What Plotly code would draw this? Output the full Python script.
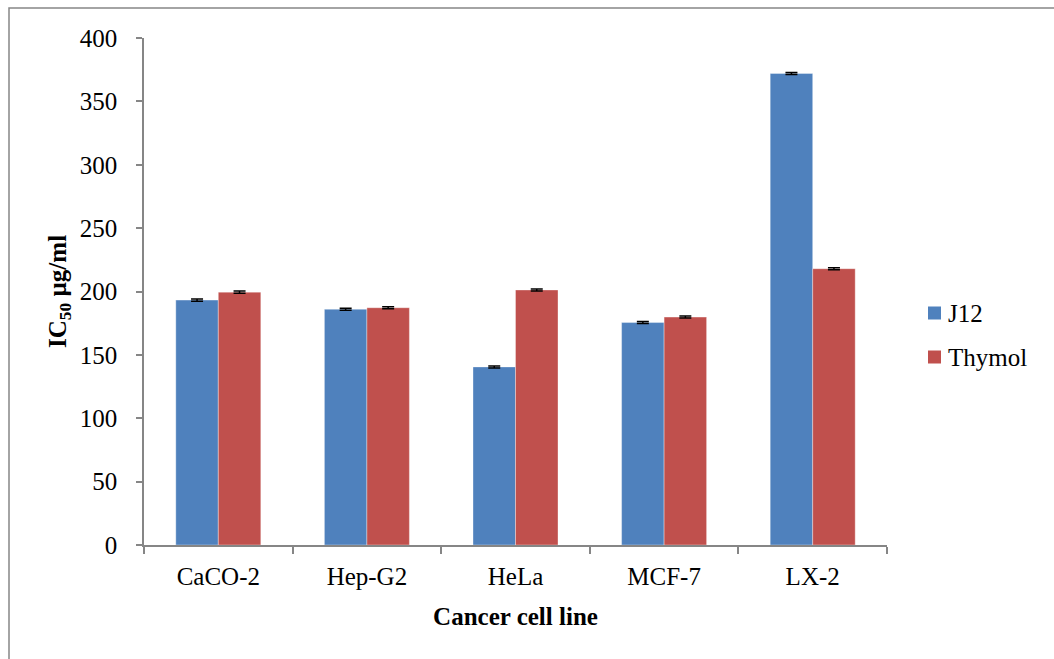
import plotly.graph_objects as go

# IC50 values (µg/ml) per cancer cell line
cell_lines = ["CaCO-2", "Hep-G2", "HeLa", "MCF-7", "LX-2"]
j12_values = [193.2, 186.0, 140.5, 175.5, 372.0]
thymol_values = [199.5, 187.2, 201.2, 179.8, 218.0]
j12_errors = [0.8, 0.8, 0.8, 0.8, 0.8]
thymol_errors = [0.8, 0.8, 0.8, 0.8, 0.8]
y_ticks = [0, 50, 100, 150, 200, 250, 300, 350, 400]
series_names = ["J12", "Thymol"]

FONT = "Liberation Serif"
AXIS_GREY = "#868686"
BLUE = "#4F81BD"
RED = "#C0504D"
series_colors = [BLUE, RED]

# plot-area geometry in pixels (used for the key placed right of the axes)
L, R, T, B = 144, 167, 38, 114
W, H = 1054, 659
PW, PH = W - L - R, H - T - B


def px_x(x):
    return (x - L) / PW


def px_y(y):
    return (H - B - y) / PH


fig = go.Figure()
fig.add_trace(go.Bar(
    name=series_names[0], x=cell_lines, y=j12_values,
    marker=dict(color=BLUE, line=dict(color="rgba(255,255,255,0.35)", width=1)),
    error_y=dict(type="data", array=j12_errors, color="black", thickness=1.5, width=6),
))
fig.add_trace(go.Bar(
    name=series_names[1], x=cell_lines, y=thymol_values,
    marker=dict(color=RED, line=dict(color="rgba(255,255,255,0.35)", width=1)),
    error_y=dict(type="data", array=thymol_errors, color="black", thickness=1.5, width=6),
))

# key: coloured squares with serif labels
shapes = [dict(
    type="rect", xref="paper", yref="paper",
    x0=px_x(9), x1=px_x(1070), y0=px_y(675), y1=px_y(8),
    line=dict(color=AXIS_GREY, width=1.5), fillcolor="rgba(0,0,0,0)",
    layer="below",
)]
annotations = []
for i, (name, color) in enumerate(zip(series_names, series_colors)):
    cy = 313 + 44 * i
    shapes.append(dict(
        type="rect", xref="paper", yref="paper",
        x0=px_x(928), x1=px_x(941), y0=px_y(cy + 6.5), y1=px_y(cy - 6.5),
        line=dict(width=0), fillcolor=color,
    ))
    annotations.append(dict(
        xref="paper", yref="paper", x=px_x(946), y=px_y(cy),
        xanchor="left", yanchor="middle", showarrow=False, text=name,
        font=dict(family=FONT, size=25, color="black"),
    ))

fig.update_layout(
    width=W, height=H,
    margin=dict(l=L, r=R, t=T, b=B),
    paper_bgcolor="white", plot_bgcolor="white",
    barmode="group", bargap=0.428, bargroupgap=0,
    font=dict(family=FONT, size=25, color="black"),
    showlegend=False,
    xaxis=dict(
        type="category",
        showline=True, linecolor=AXIS_GREY, linewidth=1.5,
        ticks="outside", tickson="boundaries", ticklen=7,
        tickcolor=AXIS_GREY, tickwidth=1.5,
        tickfont=dict(family=FONT, size=25, color="black"),
        ticklabelstandoff=8,
        showgrid=False, zeroline=False,
        title=dict(text="<b>Cancer cell line</b>",
                   font=dict(family=FONT, size=25, color="black"),
                   standoff=19),
    ),
    yaxis=dict(
        range=[0, 400], tickvals=y_ticks,
        showline=True, linecolor=AXIS_GREY, linewidth=1.5,
        ticks="outside", ticklen=6, tickcolor=AXIS_GREY, tickwidth=1.5,
        tickfont=dict(family=FONT, size=25, color="black"),
        ticklabelstandoff=14,
        showgrid=False, zeroline=False,
        title=dict(text="<b>IC<sub>50</sub> µg/ml</b>",
                   font=dict(family=FONT, size=25, color="black"),
                   standoff=6),
    ),
    shapes=shapes,
    annotations=annotations,
)

fig.write_html("out.html")
